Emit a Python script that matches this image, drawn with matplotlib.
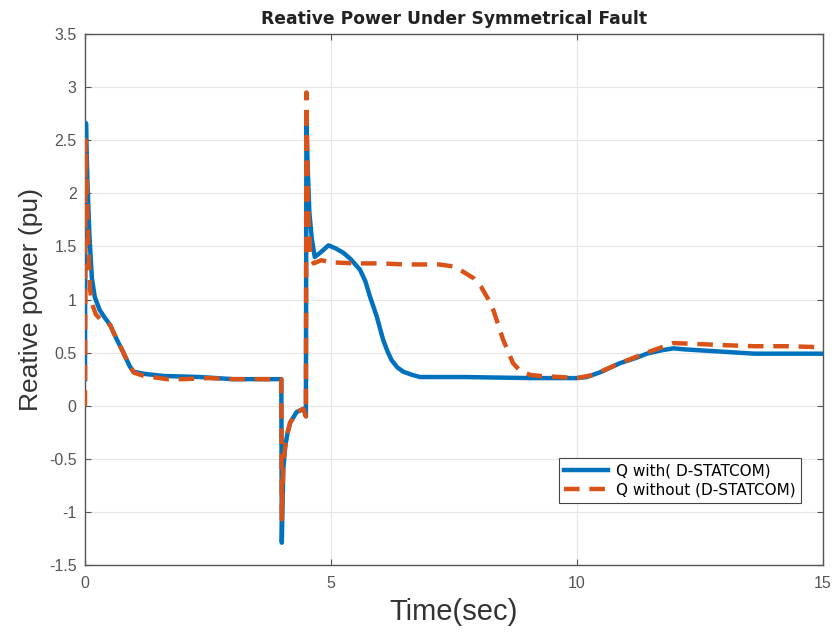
import matplotlib
matplotlib.use("Agg")
import matplotlib.pyplot as plt

# ---- data ----
t_with = [0, 0.005, 0.02, 0.05, 0.09, 0.14, 0.2, 0.3, 0.4, 0.51, 0.65, 0.78, 0.9, 0.98,
          1.2, 1.6, 2.34, 3.0, 3.5, 3.99, 4.0, 4.03, 4.07, 4.12, 4.17, 4.3, 4.44,
          4.49, 4.5, 4.53, 4.56, 4.61, 4.67, 4.78, 4.95, 5.1, 5.25, 5.4, 5.59, 5.7,
          5.79, 5.93, 6.06, 6.15, 6.23, 6.35, 6.47, 6.65, 6.81, 7.7, 9.05, 10.0,
          10.2, 10.5, 10.87, 11.2, 11.42, 11.7, 11.96, 12.2, 12.9, 13.6, 14.3, 15.0]
q_with = [0.25, 2.0, 2.66, 2.1, 1.6, 1.2, 1.02, 0.9, 0.83, 0.76, 0.62, 0.5, 0.38, 0.32,
          0.3, 0.28, 0.27, 0.25, 0.25, 0.25, -1.29, -0.6, -0.38, -0.25, -0.16, -0.06,
          -0.03, -0.1, 2.65, 2.2, 1.82, 1.57, 1.40, 1.44, 1.51, 1.48, 1.44, 1.38, 1.28,
          1.17, 1.03, 0.84, 0.62, 0.51, 0.43, 0.36, 0.32, 0.29, 0.27, 0.27, 0.26, 0.26,
          0.27, 0.32, 0.40, 0.45, 0.49, 0.52, 0.54, 0.53, 0.51, 0.49, 0.49, 0.49]

t_without = [0, 0.01, 0.03, 0.06, 0.1, 0.15, 0.22, 0.3, 0.4, 0.51, 0.65, 0.78, 0.9, 1.0,
             1.2, 1.67, 2.0, 2.5, 3.0, 3.5, 3.99, 4.0, 4.03, 4.07, 4.12, 4.17, 4.3, 4.44,
             4.49, 4.5, 4.53, 4.58, 4.65, 4.8, 5.0, 5.5, 6.0, 6.5, 6.81, 7.2, 7.5, 7.62,
             7.9, 8.05, 8.2, 8.3, 8.5, 8.7, 8.84, 9.05, 9.25, 9.65, 10.0, 10.33, 10.87,
             11.42, 11.96, 12.5, 13.0, 13.6, 14.3, 15.0]
q_without = [0.0, 2.5, 2.2, 1.6, 1.1, 0.95, 0.86, 0.82, 0.8, 0.76, 0.62, 0.5, 0.38, 0.31,
             0.28, 0.25, 0.25, 0.26, 0.25, 0.25, 0.25, -1.07, -0.55, -0.38, -0.25, -0.16,
             -0.06, -0.03, -0.1, 2.95, 1.9, 1.4, 1.34, 1.37, 1.35, 1.34, 1.34, 1.33, 1.33,
             1.33, 1.31, 1.28, 1.2, 1.12, 1.0, 0.9, 0.62, 0.40, 0.33, 0.29, 0.28, 0.27,
             0.26, 0.29, 0.40, 0.50, 0.59, 0.58, 0.57, 0.56, 0.56, 0.55]

x_ticks = [0, 5, 10, 15]
y_ticks = [-1.5, -1, -0.5, 0, 0.5, 1, 1.5, 2, 2.5, 3, 3.5]
y_tick_labels = ["-1.5", "-1", "-0.5", "0", "0.5", "1", "1.5", "2", "2.5", "3", "3.5"]

title = "Reative Power Under Symmetrical Fault"
xlabel = "Time(sec)"
ylabel = "Reative power (pu)"
labels = ["Q with( D-STATCOM)", "Q without (D-STATCOM)"]

# ---- plotting ----
plt.rcParams["font.family"] = ["Liberation Sans", "DejaVu Sans"]
plt.rcParams["axes.unicode_minus"] = False

fig = plt.figure(figsize=(8.38, 6.34), dpi=100)
ax = fig.add_axes([85 / 838, (634 - 565) / 634, 738 / 838, 531 / 634])

ax.plot(t_with, q_with, color="#0072BD", lw=3.2, label=labels[0], zorder=3,
        solid_joinstyle="round")
ax.plot(t_without, q_without, color="#D95319", lw=3.2, dashes=(3.5, 2.2),
        label=labels[1], zorder=4)

ax.set_xlim(0, 15)
ax.set_ylim(-1.5, 3.5)
ax.set_xticks(x_ticks)
ax.set_yticks(y_ticks)
ax.set_yticklabels(y_tick_labels)
ax.grid(True, color="#e6e6e6", lw=0.8)
ax.set_axisbelow(True)
ax.tick_params(direction="in", length=4, width=0.8, colors="#555555",
               labelsize=11.5, top=True, right=True)
ax.tick_params(axis="x", pad=8)
ax.tick_params(axis="y", pad=6)
for s in ax.spines.values():
    s.set_color("#555555")
    s.set_linewidth(1.0)

ax.set_title(title, fontsize=12.3, fontweight="bold", color="#222222", pad=7,
             family=["DejaVu Sans"])
ax.set_xlabel(xlabel, fontsize=21, color="#333333", labelpad=5)
ax.set_ylabel(ylabel, fontsize=19, color="#333333", labelpad=4)

leg = ax.legend(loc="upper right", bbox_to_anchor=(0.970, 0.2015), borderaxespad=0,
                prop={"family": "DejaVu Sans", "size": 11},
                frameon=True, fancybox=False, edgecolor="#444444", framealpha=1,
                handlelength=2.9, borderpad=0.35, labelspacing=0.25, handletextpad=0.5)
leg.get_frame().set_linewidth(0.8)

fig.savefig("out.png", dpi=100)
